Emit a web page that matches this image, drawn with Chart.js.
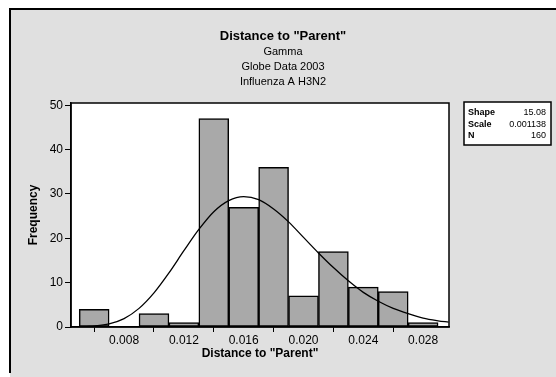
<!DOCTYPE html>
<html>
<head>
<meta charset="utf-8">
<script src="https://cdn.jsdelivr.net/npm/chart.js@4.4.0/dist/chart.umd.min.js"></script>
<style>
  html, body { margin: 0; padding: 0; background: #fff; }
  canvas { display: block; }
</style>
</head>
<body>
<canvas id="grafico" width="556" height="377"></canvas>
<script>
// histogram bins (centre of each 0.002 wide bin) and counts
const binCenters = [0.006, 0.008, 0.010, 0.012, 0.014, 0.016, 0.018, 0.020, 0.022, 0.024, 0.026, 0.028];
const counts = [4, 0, 3, 1, 47, 27, 36, 7, 17, 9, 8, 1];

// fitted gamma curve
const curveX = [0.0055, 0.006, 0.007, 0.008, 0.009, 0.010, 0.011, 0.012, 0.013, 0.014, 0.015, 0.016, 0.017,
  0.018, 0.019, 0.020, 0.021, 0.022, 0.023, 0.024, 0.025, 0.026, 0.027, 0.028, 0.029, 0.0297];
const curveY = [0.1, 0.2, 0.7, 1.9, 4.2, 7.7, 12.2, 17.2, 22.0, 26.0, 28.5, 29.4, 28.7,
  26.6, 23.7, 20.2, 16.7, 13.4, 10.4, 7.8, 5.8, 4.2, 3.0, 2.0, 1.4, 1.1];

const xTicks = [0.008, 0.012, 0.016, 0.020, 0.024, 0.028];
const yTicks = [0, 10, 20, 30, 40, 50];

const titleLines = ['Distance to "Parent"', 'Gamma', 'Globe Data 2003', 'Influenza A H3N2'];
const statLabels = ['Shape', 'Scale', 'N'];
const statValues = ['15.08', '0.001138', '160'];

const fonte = "'Liberation Sans', Arial, sans-serif";

// fundo, moldura, titulos e caixa de estatisticas
const decoracao = {
  id: 'decoracao',
  beforeDraw(chart) {
    const c = chart.ctx;
    const a = chart.chartArea;
    c.save();
    c.fillStyle = '#fff';
    c.fillRect(0, 0, chart.width, chart.height);
    c.fillStyle = '#e0e0e0';
    c.fillRect(10, 9, chart.width - 10, chart.height - 9);
    c.strokeStyle = '#000';
    c.lineWidth = 2;
    c.beginPath();
    c.moveTo(10, chart.height - 4);
    c.lineTo(10, 9);
    c.lineTo(chart.width, 9);
    c.stroke();
    c.fillStyle = '#fff';
    c.fillRect(a.left, a.top, a.right - a.left, a.bottom - a.top);
    c.restore();
  },
  afterDraw(chart) {
    const c = chart.ctx;
    const a = chart.chartArea;
    c.save();
    c.strokeStyle = '#000';
    c.lineWidth = 1.5;
    c.strokeRect(a.left, a.top, a.right - a.left, a.bottom - a.top);

    c.fillStyle = '#000';
    c.textAlign = 'center';
    c.textBaseline = 'middle';
    c.font = 'bold 13px ' + fonte;
    c.fillText(titleLines[0], 283, 36);
    c.font = '11px ' + fonte;
    c.fillText(titleLines[1], 283, 52);
    c.fillText(titleLines[2], 283, 67);
    c.fillText(titleLines[3], 283, 82);

    // caixa
    c.fillStyle = '#fff';
    c.fillRect(464, 102, 87, 43);
    c.strokeRect(464, 102, 87, 43);
    c.fillStyle = '#000';
    const linhas = [113, 124.5, 136];
    for (let i = 0; i < statLabels.length; i++) {
      c.textAlign = 'left';
      c.font = 'bold 9px ' + fonte;
      c.fillText(statLabels[i], 468, linhas[i]);
      c.textAlign = 'right';
      c.font = '9px ' + fonte;
      c.fillText(statValues[i], 546, linhas[i]);
    }
    c.restore();
  }
};

const ctx = document.getElementById('grafico').getContext('2d');

const grafico = new Chart(ctx, {
  type: 'bar',
  data: {
    datasets: [
      {
        type: 'line',
        data: curveX.map((x, i) => ({ x: x, y: curveY[i] })),
        borderColor: '#000',
        borderWidth: 1.3,
        pointRadius: 0,
        tension: 0.4,
        cubicInterpolationMode: 'monotone',
        fill: false,
        order: 0
      },
      {
        type: 'bar',
        data: binCenters.map((x, i) => ({ x: x, y: counts[i] })),
        backgroundColor: '#a9a9a9',
        borderColor: '#000',
        borderWidth: 1.5,
        borderSkipped: false,
        barPercentage: 1,
        categoryPercentage: 1,
        order: 1
      }
    ]
  },
  plugins: [decoracao],
  options: {
    responsive: false,
    animation: false,
    layout: { padding: { top: 103, right: 107, left: 0, bottom: 0 } },
    scales: {
      x: {
        type: 'linear',
        min: 0.00445,
        max: 0.02973,
        offset: false,
        afterFit: function (scale) { scale.height = 50; },
        afterBuildTicks: function (scale) { scale.ticks = xTicks.map(v => ({ value: v })); },
        ticks: {
          color: '#000',
          font: { family: fonte, size: 12 },
          padding: 1,
          maxRotation: 0,
          callback: v => v.toFixed(3)
        },
        grid: { drawOnChartArea: false, color: '#000', tickLength: 5, lineWidth: 1 },
        border: { color: '#000', width: 1.5 },
        title: {
          display: true,
          text: 'Distance to "Parent"',
          color: '#000',
          font: { family: fonte, size: 12, weight: 'bold' },
          padding: { top: 0, bottom: 16 }
        }
      },
      y: {
        min: 0,
        max: 50.5,
        afterFit: function (scale) { scale.width = 71; },
        afterBuildTicks: function (scale) { scale.ticks = yTicks.map(v => ({ value: v })); },
        ticks: {
          color: '#000',
          font: { family: fonte, size: 12 },
          padding: 2
        },
        grid: { drawOnChartArea: false, color: '#000', tickLength: 6, lineWidth: 1 },
        border: { color: '#000', width: 1.5 },
        title: {
          display: true,
          text: 'Frequency',
          color: '#000',
          font: { family: fonte, size: 12, weight: 'bold' },
          padding: { top: 26, bottom: 0 }
        }
      }
    },
    plugins: {
      legend: { display: false },
      tooltip: { enabled: false },
      title: { display: false }
    }
  }
});
</script>
</body>
</html>
